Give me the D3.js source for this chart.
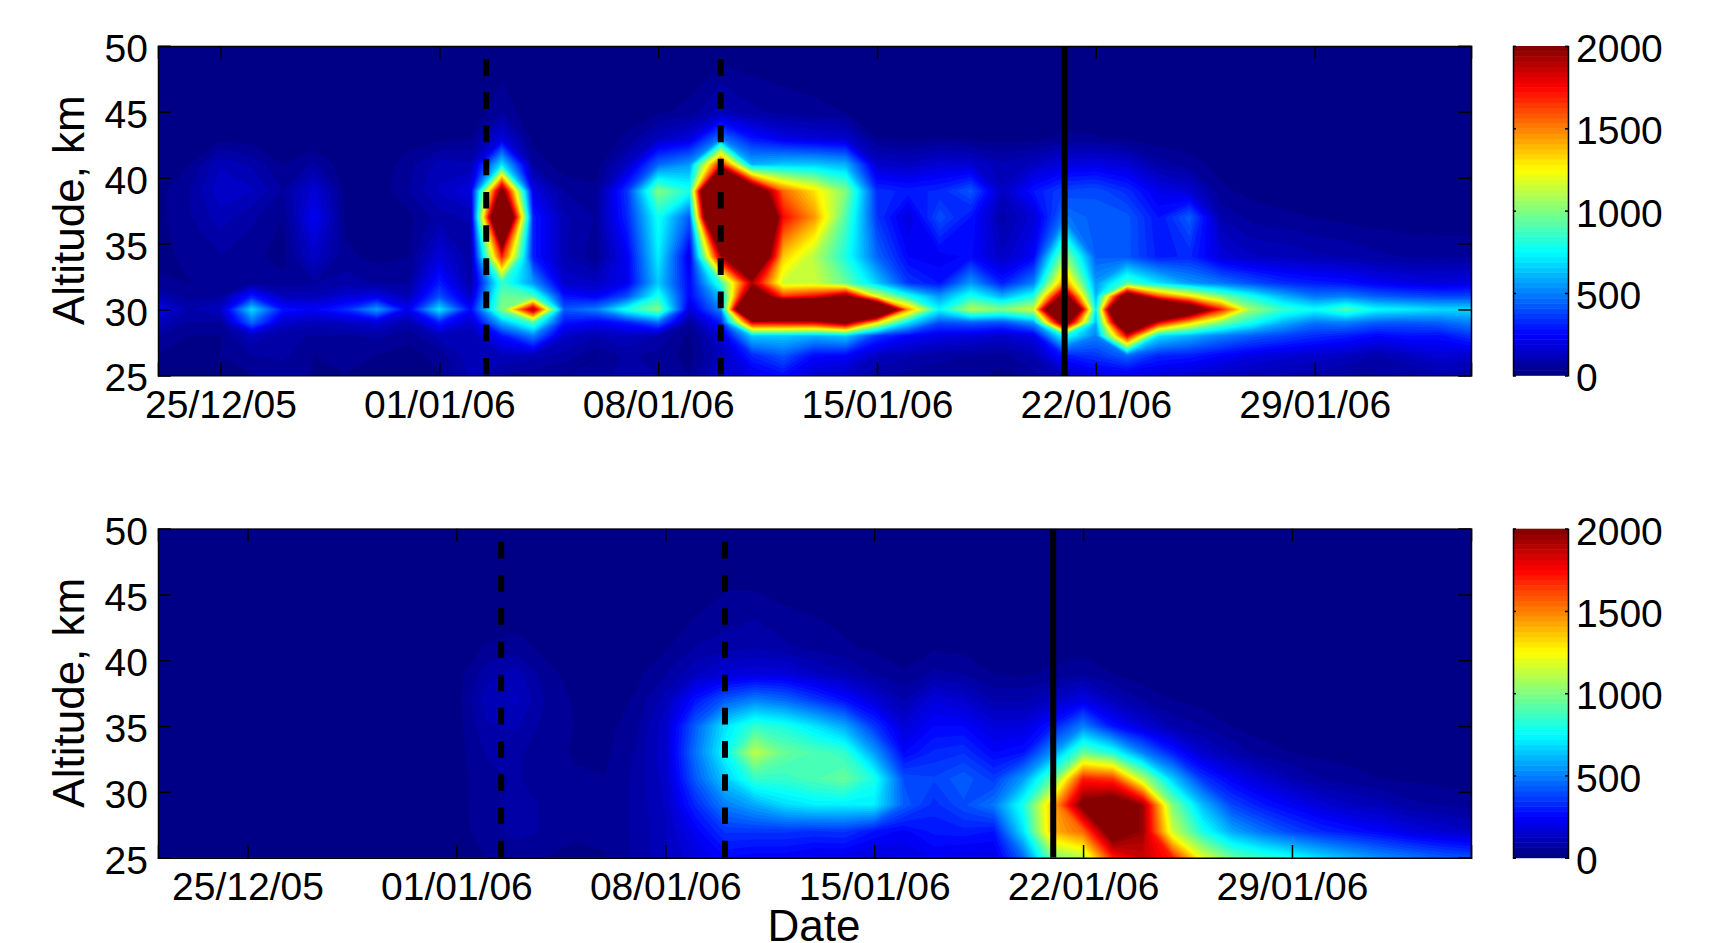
<!DOCTYPE html>
<html>
<head>
<meta charset="utf-8">
<script src="https://cdn.jsdelivr.net/npm/d3@7"></script>
<style>
body { margin: 0; background: #fff; overflow: hidden; }
text { font-family: "Liberation Sans", Arial, sans-serif; fill: #000; }
.axis path, .axis line { stroke: #000; stroke-width: 1.5px; }
.axis text { font-size: 39px; font-family: "Liberation Sans", Arial, sans-serif; fill: #000; }
.label { font-size: 44px; }
</style>
</head>
<body>
<div id="chart"></div>
<script>
let altitudeTicks = [25, 30, 35, 40, 45, 50];
let colorTicks = [0, 500, 1000, 1500, 2000];
let maxValue = 2000;

let dateTicks = ["2005-12-25", "2006-01-01", "2006-01-08", "2006-01-15", "2006-01-22", "2006-01-29"];
let dateLabels = ["25/12/05", "01/01/06", "08/01/06", "15/01/06", "22/01/06", "29/01/06"];
let dashedDates = ["2006-01-02T12:00", "2006-01-10"];
let solidDates = ["2006-01-21"];

// upper panel, one row per day from 23/12/05, one value per altitude in topAltitudes
let topStart = "2005-12-23";
let topAltitudes = [25, 26.5, 28, 29, 30, 31, 32, 34, 37, 39, 41, 43, 45, 50];
let topValues = [
    [20,30,60,120,220,100,40,20,20,20,10,0,0,0],
    [20,20,30,60,90,50,30,40,60,60,30,0,0,0],
    [10,30,30,60,130,60,40,60,110,150,120,20,0,0],
    [30,60,120,450,680,300,60,40,70,130,90,10,0,0],
    [40,70,70,150,280,120,40,20,30,60,30,0,0,0],
    [30,30,60,110,240,110,60,140,230,170,70,0,0,0],
    [30,50,60,130,330,170,80,40,20,20,5,0,0,0],
    [20,30,70,170,560,200,60,20,10,10,5,0,0,0],
    [20,20,40,90,220,110,60,30,20,60,50,10,0,0],
    [30,40,110,300,700,400,300,180,80,130,110,20,0,0],
    [100,120,100,150,260,140,80,70,100,190,100,30,0,0],
    [60,120,280,600,1000,950,850,1700,3000,2100,700,180,60,0],
    [40,110,500,900,1950,900,550,300,300,200,60,15,0,0],
    [30,80,140,280,420,280,150,100,100,60,10,0,0,0],
    [40,30,100,230,500,230,130,40,60,40,10,0,0,0],
    [80,70,130,300,800,400,220,230,320,350,130,40,10,0],
    [60,50,90,450,1000,800,650,720,780,1000,450,120,25,0],
    [30,20,20,60,180,250,250,200,420,800,550,180,40,0],
    [150,110,170,300,500,620,850,1900,3700,4000,1750,480,110,0],
    [200,320,650,1800,3600,2400,1900,2800,3200,2400,600,280,70,0],
    [260,420,650,1800,3000,1650,1150,1350,1750,1550,650,200,50,0],
    [150,260,600,1800,3200,1750,1150,1100,1450,1300,650,170,40,0],
    [120,250,650,2050,3600,2050,950,800,900,1000,600,150,30,0],
    [70,130,350,1300,2900,1200,650,450,350,330,150,30,5,0],
    [50,100,250,700,1450,800,350,250,180,300,130,20,0,0],
    [50,70,200,400,750,550,280,230,400,320,170,30,0,0],
    [40,60,180,430,1100,800,550,260,280,420,160,20,0,0],
    [20,50,150,400,1000,600,300,130,80,130,100,15,0,0],
    [50,100,200,550,1150,800,500,240,170,280,130,20,0,0],
    [120,300,800,2200,3400,2150,1500,1050,480,380,190,40,10,0],
    [200,350,500,600,720,600,550,430,420,400,200,35,5,0],
    [200,450,1800,2800,3800,2300,900,420,420,330,170,20,0,0],
    [180,320,700,1800,3000,1600,700,300,280,210,80,10,0,0],
    [150,300,600,1350,2400,1300,550,320,430,160,50,5,0,0],
    [120,250,500,1000,1700,1000,480,180,90,40,15,0,0,0],
    [100,200,430,780,1050,780,400,130,50,20,5,0,0,0],
    [90,170,380,600,850,600,330,120,40,10,0,0,0,0],
    [80,150,330,480,760,480,300,100,30,5,0,0,0,0],
    [60,130,300,500,900,500,280,90,20,0,0,0,0,0],
    [60,90,250,430,750,430,230,70,15,0,0,0,0,0],
    [50,130,280,420,720,400,200,60,10,0,0,0,0,0],
    [80,170,270,440,680,380,180,60,5,0,0,0,0,0],
    [70,150,350,500,680,380,200,60,5,0,0,0,0,0]
];

// lower panel, one row per day from 22/12/05
let bottomStart = "2005-12-22";
let bottomAltitudes = [25, 27, 29, 31, 33, 35, 37, 39, 41, 43, 45, 50];
let bottomValues = [
    [0,0,0,0,0,0,0,0,0,0,0,0],
    [0,0,0,0,0,0,0,0,0,0,0,0],
    [0,0,0,0,0,0,0,0,0,0,0,0],
    [0,0,0,0,0,0,0,0,0,0,0,0],
    [0,0,0,0,0,0,0,0,0,0,0,0],
    [0,0,0,0,0,0,0,0,0,0,0,0],
    [0,0,0,0,0,0,0,0,0,0,0,0],
    [0,0,0,0,0,0,0,0,0,0,0,0],
    [0,0,0,0,0,0,0,0,0,0,0,0],
    [5,5,5,5,5,5,5,5,0,0,0,0],
    [15,15,15,15,15,15,15,15,10,0,0,0],
    [30,50,55,55,65,90,110,80,35,10,0,0],
    [50,70,70,65,70,100,130,110,45,20,0,0],
    [30,60,60,50,40,50,60,40,20,5,0,0],
    [25,35,40,35,28,30,25,20,5,0,0,0],
    [30,35,35,32,25,20,15,10,5,0,0,0],
    [70,70,70,70,65,50,35,20,5,0,0,0],
    [120,120,130,140,150,150,110,60,25,5,0,0],
    [180,230,320,420,470,430,280,120,65,35,5,0],
    [250,350,500,650,750,700,420,170,80,50,33,0],
    [230,350,580,850,1120,850,500,180,90,65,33,0],
    [230,350,680,850,950,800,450,180,70,40,25,0],
    [200,340,720,900,900,700,360,130,50,36,5,0],
    [200,350,720,950,850,580,270,100,38,20,0,0],
    [170,280,720,800,560,350,170,60,22,5,0,0],
    [190,240,430,400,250,170,90,35,10,0,0,0],
    [220,290,330,380,320,250,180,70,25,5,0,0],
    [200,300,400,430,340,250,150,60,20,0,0,0],
    [200,280,480,360,250,180,90,30,8,0,0,0],
    [450,700,800,560,280,180,90,25,5,0,0,0],
    [1000,1400,1400,950,550,300,130,40,10,0,0,0],
    [1100,1550,2050,1700,950,500,200,60,15,0,0,0],
    [1700,2150,2150,1650,800,280,110,30,5,0,0,0],
    [1850,1950,1950,1100,500,170,60,10,0,0,0,0],
    [1700,1150,1000,650,300,90,30,5,0,0,0,0],
    [1200,800,620,350,150,60,15,0,0,0,0,0],
    [950,580,380,230,90,30,10,0,0,0,0,0],
    [850,470,290,160,45,15,0,0,0,0,0,0],
    [780,380,230,100,30,10,0,0,0,0,0,0],
    [680,320,170,60,20,5,0,0,0,0,0,0],
    [600,280,130,45,15,5,0,0,0,0,0,0],
    [530,240,110,30,10,0,0,0,0,0,0,0],
    [480,190,70,25,5,0,0,0,0,0,0,0],
    [430,160,60,20,5,0,0,0,0,0,0,0],
    [400,130,50,15,0,0,0,0,0,0,0,0]
];

let width = 1724, height = 943,
    left = 158, right = 1471,
    barLeft = 1513, barRight = 1568,
    levels = 64;

let parseDate = function(s) { return new Date(s.length > 10 ? s + "Z" : s + "T00:00Z"); };

// matlab jet
function jet(t) {
    let c = function(v) { return Math.round(255 * Math.max(0, Math.min(1, v))); };
    let r = 1.5 - Math.abs(4 * t - 3),
        g = 1.5 - Math.abs(4 * t - 2),
        b = 1.5 - Math.abs(4 * t - 1);
    return "rgb(" + c(r) + "," + c(g) + "," + c(b) + ")";
}

let thresholds = d3.range(levels).map(function(i) { return i * maxValue / levels; });
let levelColor = function(i) { return jet((i + 0.5) / levels); };

let svg = d3.select("#chart").append("svg")
    .attr("width", width)
    .attr("height", height);

function drawPanel(id, top, bottom, xDomain, startDate, altitudes, values) {
    let x = d3.scaleUtc().domain(xDomain.map(parseDate)).range([left, right]);
    let y = d3.scaleLinear().domain([25, 50]).range([bottom, top]);

    let g = svg.append("g");

    svg.append("clipPath").attr("id", "clip" + id)
        .append("rect")
        .attr("x", left).attr("y", top)
        .attr("width", right - left).attr("height", bottom - top);

    // grid index -> day and altitude, altitudes are not evenly spaced
    let start = parseDate(startDate);
    let nDays = values.length, nAlt = altitudes.length;
    let colX = d3.scaleLinear().domain([0, nDays - 1])
        .range([x(start), x(d3.utcDay.offset(start, nDays - 1))]);
    let rowAlt = d3.scaleLinear().domain(d3.range(nAlt)).range(altitudes);

    let flat = [];
    altitudes.forEach(function(a, j) {
        values.forEach(function(col) { flat.push(col[j]); });
    });

    let contours = d3.contours()
        .size([nDays, nAlt])
        .smooth(true)
        .thresholds(thresholds)(flat);

    let path = d3.geoPath(d3.geoTransform({
        point: function(px, py) {
            this.stream.point(colX(px - 0.5), y(rowAlt(py - 0.5)));
        }
    }));

    let field = g.append("g").attr("clip-path", "url(#clip" + id + ")");

    field.append("rect")
        .attr("x", left).attr("y", top)
        .attr("width", right - left).attr("height", bottom - top)
        .attr("fill", levelColor(0));

    field.selectAll("path")
        .data(contours)
        .enter().append("path")
        .attr("d", path)
        .attr("fill", function(d, i) { return levelColor(i); });

    // event lines, stop at 49 km when dashed
    field.selectAll(".dashed")
        .data(dashedDates)
        .enter().append("line")
        .attr("class", "dashed")
        .attr("x1", function(d) { return x(parseDate(d)); })
        .attr("x2", function(d) { return x(parseDate(d)); })
        .attr("y1", y(49))
        .attr("y2", bottom)
        .attr("stroke", "#000")
        .attr("stroke-width", 6)
        .attr("stroke-dasharray", "16.6,16.6");

    field.selectAll(".solid")
        .data(solidDates)
        .enter().append("line")
        .attr("class", "solid")
        .attr("x1", function(d) { return x(parseDate(d)); })
        .attr("x2", function(d) { return x(parseDate(d)); })
        .attr("y1", top)
        .attr("y2", bottom)
        .attr("stroke", "#000")
        .attr("stroke-width", 6);

    // axes
    let tickDates = dateTicks.map(parseDate);
    let xAxis = d3.axisBottom(x)
        .tickValues(tickDates)
        .tickFormat(function(d, i) { return dateLabels[i]; })
        .tickSize(-12.7)
        .tickPadding(15);
    let xTop = d3.axisTop(x).tickValues(tickDates).tickFormat("").tickSize(-12.7);
    let yAxis = d3.axisLeft(y).tickValues(altitudeTicks).tickSize(-12.7).tickPadding(10);
    let yRight = d3.axisRight(y).tickValues(altitudeTicks).tickFormat("").tickSize(-12.7);

    g.append("g").attr("class", "axis").attr("transform", "translate(0," + bottom + ")").call(xAxis);
    g.append("g").attr("class", "axis").attr("transform", "translate(0," + top + ")").call(xTop);
    g.append("g").attr("class", "axis").attr("transform", "translate(" + left + ",0)").call(yAxis)
        .selectAll("text").attr("dy", ".40em");
    g.append("g").attr("class", "axis").attr("transform", "translate(" + right + ",0)").call(yRight);

    g.append("text")
        .attr("class", "label")
        .attr("transform", "translate(84," + ((top + bottom) / 2 - 0.5) + ") rotate(-90)")
        .attr("text-anchor", "middle")
        .text("Altitude, km");

    // colorbar
    let c = d3.scaleLinear().domain([0, maxValue]).range([bottom, top]);
    let bar = g.append("g");
    bar.selectAll("rect")
        .data(thresholds)
        .enter().append("rect")
        .attr("x", barLeft)
        .attr("width", barRight - barLeft)
        .attr("y", function(d) { return c(d + maxValue / levels); })
        .attr("height", function(d) { return c(d) - c(d + maxValue / levels) + 0.5; })
        .attr("fill", function(d, i) { return levelColor(i); });

    let cAxis = d3.axisRight(c).tickValues(colorTicks).tickFormat(d3.format("d")).tickSize(-3).tickPadding(8);
    let cLeft = d3.axisLeft(c).tickValues(colorTicks).tickFormat("").tickSize(-3);
    g.append("g").attr("class", "axis").attr("transform", "translate(" + barRight + ",0)").call(cAxis)
        .selectAll("text").attr("dy", ".40em");
    g.append("g").attr("class", "axis").attr("transform", "translate(" + barLeft + ",0)").call(cLeft);
}

drawPanel("Top", 46, 375.3, ["2005-12-23", "2006-02-03"], topStart, topAltitudes, topValues);
drawPanel("Bottom", 528.7, 857.7, ["2005-12-22", "2006-02-04"], bottomStart, bottomAltitudes, bottomValues);

svg.append("text")
    .attr("class", "label")
    .attr("x", 814)
    .attr("y", 941)
    .attr("text-anchor", "middle")
    .text("Date");
</script>
</body>
</html>
